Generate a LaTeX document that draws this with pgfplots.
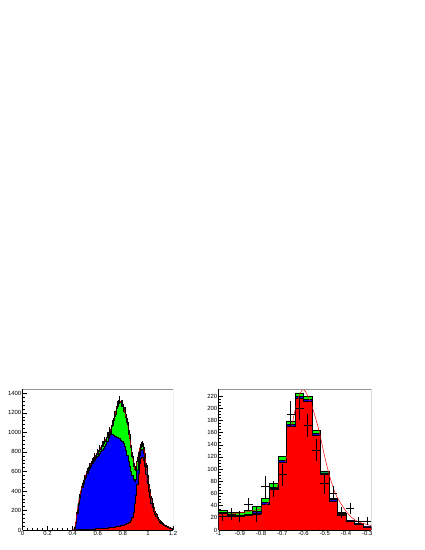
\documentclass[border=0pt]{standalone}
\usepackage{fontspec}
\setmainfont{Liberation Sans}
\usepackage{pgfplots}
\usepackage{pgfplotstable}
\pgfplotsset{compat=1.18}
\definecolor{rgreen}{RGB}{0,255,0}
\definecolor{rblue}{RGB}{0,0,255}
\definecolor{rred}{RGB}{255,0,0}
\definecolor{rframe}{RGB}{150,150,150}

\pgfplotstableread{
x T B R D E
0.40 0 0 0 0 0
0.41 20 18 2 25 5
0.42 80 75 3 70 8
0.43 180 170 4 190 14
0.44 270 260 5 260 16
0.45 340 330 6 350 19
0.46 400 390 7 395 20
0.47 450 440 7 460 21
0.48 490 480 8 485 22
0.49 530 518 8 540 23
0.50 565 552 9 560 24
0.51 600 585 9 610 25
0.52 630 613 10 625 25
0.53 655 637 10 665 26
0.54 680 660 11 675 26
0.55 705 682 12 715 27
0.56 725 700 12 720 27
0.57 745 718 13 760 27
0.58 765 736 14 755 28
0.59 785 753 15 800 28
0.60 805 770 16 795 28
0.61 825 788 17 840 29
0.62 850 805 18 845 29
0.63 870 822 19 885 30
0.64 890 840 20 880 30
0.65 910 858 21 925 30
0.66 930 878 22 920 31
0.67 955 905 24 975 31
0.68 980 940 25 970 31
0.69 1005 970 27 1020 32
0.70 1035 990 28 1030 32
0.71 1075 985 30 1090 33
0.72 1120 975 32 1110 33
0.73 1170 965 34 1185 34
0.74 1220 958 36 1215 35
0.75 1265 950 38 1280 36
0.76 1300 945 41 1295 36
0.77 1320 940 44 1335 36
0.78 1310 925 47 1300 36
0.79 1285 905 50 1295 36
0.80 1255 885 54 1245 35
0.81 1210 855 58 1220 35
0.82 1160 815 63 1150 34
0.83 1100 765 69 1110 33
0.84 1020 705 76 1010 32
0.85 940 650 85 950 31
0.86 850 600 100 840 29
0.87 760 560 130 770 28
0.88 680 525 185 670 26
0.89 620 500 270 630 25
0.90 640 520 360 635 25
0.91 710 610 470 720 27
0.92 780 690 580 775 28
0.93 840 770 680 850 29
0.94 875 815 740 870 30
0.95 885 825 750 880 30
0.96 850 790 720 860 29
0.97 770 710 650 765 28
0.98 660 620 570 665 26
0.99 560 525 480 555 24
1.00 470 440 400 475 22
1.01 400 375 340 395 20
1.02 330 310 280 335 18
1.03 275 258 235 270 17
1.04 230 215 195 235 15
1.05 190 180 165 185 14
1.06 160 152 140 165 13
1.07 135 128 118 130 12
1.08 112 107 100 115 11
1.09 95 91 85 92 10
1.10 80 77 72 83 9
1.11 68 65 61 66 8
1.12 58 55 52 60 8
1.13 50 48 45 48 7
1.14 43 41 38 45 7
1.15 37 35 32 35 6
1.16 30 28 26 32 5.5
1.17 25 23 21 24 5
1.18 20 19 17 21 4.5
1.19 15 14 13 14 4
1.20 15 14 13 0 0
}\leftdata

\pgfplotstableread{
x T B R
-1.00 32 29 27
-0.96 29 25 23
-0.92 29 24 22
-0.88 32 26 24
-0.84 39 31 28
-0.80 52 45 42
-0.76 77 70 67
-0.72 121 114 111
-0.68 179 173 170
-0.64 225 219 216
-0.60 220 215 212
-0.56 163 159 156
-0.52 97 94 91
-0.48 52 50 48
-0.44 27 26 25
-0.40 16 15 14
-0.36 11 10 9.5
-0.32 6 5.5 5
-0.28 6 5.5 5
}\rightdata

\pgfplotstableread{
x D E
-0.98 22 8
-0.94 26 10
-0.90 22 9
-0.86 42 11
-0.82 26 13
-0.78 71 18
-0.74 68 13
-0.70 91 18
-0.66 190 21
-0.62 200 20
-0.58 172 19
-0.54 131 18
-0.50 76 17
-0.46 61 12
-0.42 29 9
-0.38 35 9
-0.34 15 7
-0.30 15 6
}\rightpts

\pgfplotstableread{
x F
-1.00 24
-0.95 26
-0.90 28
-0.85 31
-0.80 35
-0.775 42
-0.75 52
-0.725 70
-0.70 95
-0.675 128
-0.65 180
-0.625 216
-0.605 230
-0.59 227
-0.565 208
-0.545 186
-0.525 160
-0.50 120
-0.475 86
-0.45 60
-0.425 44
-0.40 31
-0.375 21
-0.35 15
-0.325 11
-0.30 9
-0.28 7
}\rightfit

\pgfplotsset{
  rootax/.style={
    scale only axis,
    anchor=south west,
    axis x line*=bottom,
    axis y line*=left,
    axis line style={black, line width=0.4bp},
    tick align=inside,
    major tick length=4bp,
    minor tick length=2bp,
    every tick/.style={black, line width=0.35bp},
    minor x tick num=4,
    minor y tick num=4,
    tick label style={font=\fontsize{6}{7}\selectfont},
    xticklabel style={inner sep=1bp, yshift=-0.5bp},
    yticklabel style={inner sep=1bp},
    clip=true,
  },
  hist/.style={const plot, draw=black, line width=0.3bp},
  ebars/.style={draw=none, mark=none, forget plot},
}

\begin{document}
\begin{tikzpicture}
\fill[white] (0,0) rectangle (425bp,550bp);
\begin{axis}[rootax,
  at={(22.5bp,20bp)}, width=150.5bp, height=141bp,
  xmin=0, xmax=1.2, ymin=0, ymax=1444,
  xtick={0,0.2,0.4,0.6,0.8,1,1.2},
  xticklabels={0,0.2,0.4,0.6,0.8,1,1.2},
  ytick={0,200,400,600,800,1000,1200,1400},
  yticklabels={0,200,400,600,800,1000,1200,1400},
]
\addplot[hist, fill=rgreen] table[x=x, y=T]{\leftdata} \closedcycle;
\addplot[hist, fill=rblue] table[x=x, y=B]{\leftdata} \closedcycle;
\addplot[hist, fill=rred] table[x=x, y=R]{\leftdata} \closedcycle;
\addplot[rred, line width=0.5bp] table[x expr=\thisrow{x}+0.005, y=T]{\leftdata};
\addplot[ebars,
  error bars/.cd, y dir=both, y explicit, error mark=none,
  error bar style={draw=black, line width=0.4bp}]
  table[x expr=\thisrow{x}+0.005, y=D, y error=E]{\leftdata};
\draw[rframe, line width=0.5bp] (rel axis cs:0,1) -- (rel axis cs:1,1) -- (rel axis cs:1,0);
\end{axis}

\begin{axis}[rootax,
  at={(218.5bp,20bp)}, width=153bp, height=141bp,
  xmin=-1, xmax=-0.28, ymin=0, ymax=231.5,
  xtick={-1,-0.9,-0.8,-0.7,-0.6,-0.5,-0.4,-0.3},
  xticklabels={-1,-0.9,-0.8,-0.7,-0.6,-0.5,-0.4,-0.3},
  ytick={0,20,40,60,80,100,120,140,160,180,200,220},
  yticklabels={0,20,40,60,80,100,120,140,160,180,200,220},
  minor y tick num=3,
]
\addplot[hist, fill=rgreen, line width=0.6bp] table[x=x, y=T]{\rightdata} \closedcycle;
\addplot[hist, fill=rblue] table[x=x, y=B]{\rightdata} \closedcycle;
\addplot[hist, fill=rred] table[x=x, y=R]{\rightdata} \closedcycle;
\addplot[rred, line width=0.5bp, smooth] table[x=x, y=F]{\rightfit};
\addplot[ebars,
  error bars/.cd, x dir=both, x fixed=0.02, y dir=both, y explicit, error mark=none,
  error bar style={draw=black, line width=0.6bp}]
  table[x=x, y=D, y error=E]{\rightpts};
\draw[rframe, line width=0.5bp] (rel axis cs:0,1) -- (rel axis cs:1,1) -- (rel axis cs:1,0);
\end{axis}
\end{tikzpicture}
\end{document}
